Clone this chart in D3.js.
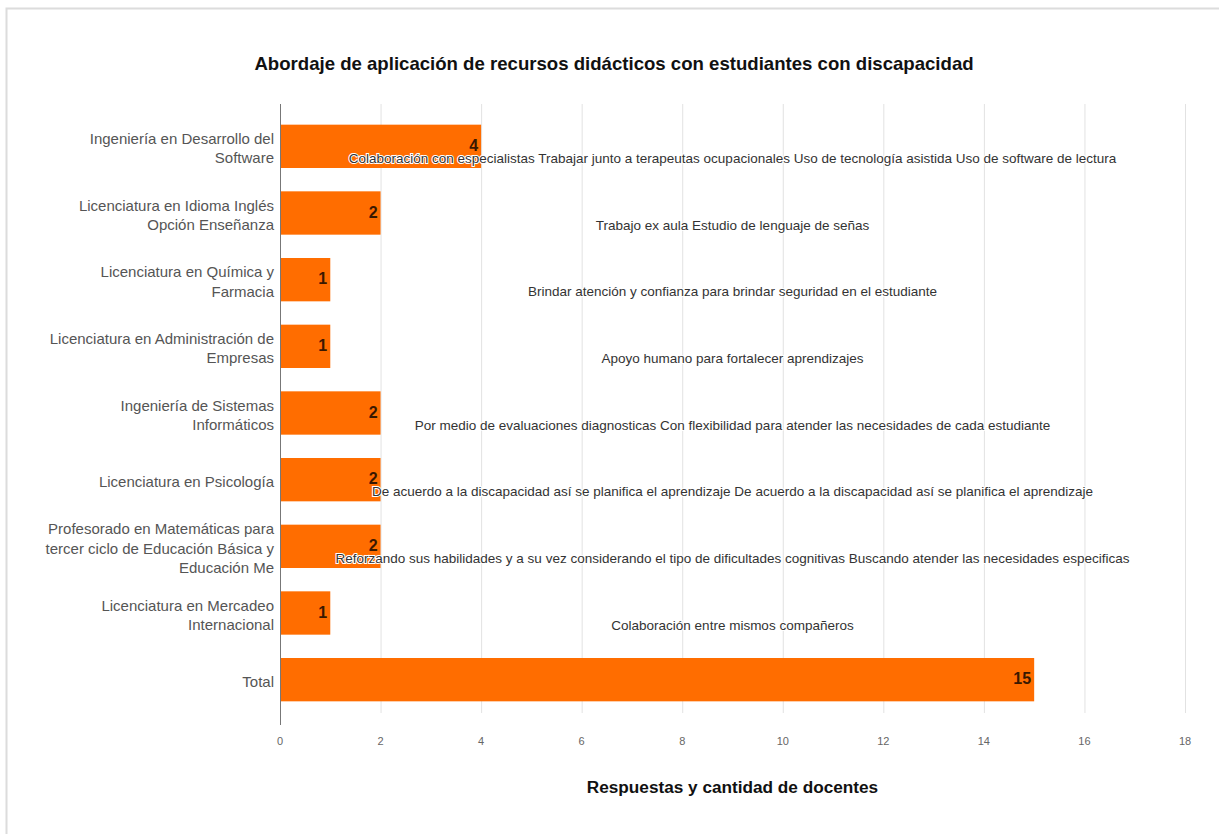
<!DOCTYPE html>
<html>
<head>
<meta charset="utf-8">
<script src="https://cdn.jsdelivr.net/npm/d3@7"></script>
<style>
  body { margin: 0; background: #fff; }
  svg { display: block; }
</style>
</head>
<body>
<div id="chart"></div>
<script>
// Datos del gráfico
const categorias = [
  ["Ingeniería en Desarrollo del", "Software"],
  ["Licenciatura en Idioma Inglés", "Opción Enseñanza"],
  ["Licenciatura en Química y", "Farmacia"],
  ["Licenciatura en Administración de", "Empresas"],
  ["Ingeniería de Sistemas", "Informáticos"],
  ["Licenciatura en Psicología"],
  ["Profesorado en Matemáticas para", "tercer ciclo de Educación Básica y", "Educación Me"],
  ["Licenciatura en Mercadeo", "Internacional"],
  ["Total"]
];
const valores = [4, 2, 1, 1, 2, 2, 2, 1, 15];
const respuestas = [
  "Colaboración con especialistas Trabajar junto a terapeutas ocupacionales Uso de tecnología asistida  Uso de software de lectura",
  "Trabajo ex aula   Estudio de lenguaje de señas",
  "Brindar atención y confianza para brindar seguridad en el estudiante",
  "Apoyo humano para fortalecer aprendizajes",
  "Por medio de evaluaciones diagnosticas Con flexibilidad para atender las necesidades de cada estudiante",
  "De acuerdo a la discapacidad así se planifica el aprendizaje De acuerdo a la discapacidad así se planifica el aprendizaje",
  "Reforzando sus habilidades y a su vez considerando el tipo de dificultades cognitivas Buscando atender las necesidades especificas",
  "Colaboración entre mismos compañeros",
  ""
];
const ticksX = [0, 2, 4, 6, 8, 10, 12, 14, 16, 18];

const width = 1219, height = 834;
const margenIzq = 280, margenDer = 1185, margenSup = 113, margenInf = 713;
const fuente = "'Liberation Sans', Arial, sans-serif";

const svg = d3.select("#chart").append("svg")
  .attr("width", width)
  .attr("height", height);

// marco
svg.append("path")
  .attr("d", "M6.5," + height + "V8.5H" + width)
  .attr("fill", "none")
  .attr("stroke", "#dcdcdc")
  .attr("stroke-width", 2);

const x = d3.scaleLinear().domain([0, 18]).range([margenIzq, margenDer]);
const y = d3.scaleBand().domain(d3.range(valores.length)).range([margenSup, margenInf]).paddingInner(0.35).paddingOuter(0.175);

// líneas de la cuadrícula
svg.append("g")
  .selectAll("line")
  .data(ticksX.slice(1))
  .enter()
  .append("line")
  .attr("x1", d => x(d) + 0.5)
  .attr("x2", d => x(d) + 0.5)
  .attr("y1", 104)
  .attr("y2", margenInf)
  .attr("stroke", "#e2e2e2");

// barras
svg.append("g")
  .selectAll("rect")
  .data(valores)
  .enter()
  .append("rect")
  .attr("x", x(0))
  .attr("y", (d, i) => y(i))
  .attr("width", d => x(d) - x(0))
  .attr("height", y.bandwidth())
  .attr("fill", "#ff6d00");

// eje vertical
svg.append("line")
  .attr("x1", margenIzq + 0.5).attr("x2", margenIzq + 0.5)
  .attr("y1", 104).attr("y2", 725)
  .attr("stroke", "#777");

// etiquetas de categorías
const etiquetas = svg.append("g")
  .selectAll("text")
  .data(categorias)
  .enter()
  .append("text")
  .attr("text-anchor", "end")
  .attr("font-family", fuente)
  .attr("font-size", 15)
  .attr("fill", "#555")
  .attr("transform", (d, i) => "translate(274," + (y(i) + y.bandwidth() / 2 + 2) + ")");

etiquetas.selectAll("tspan")
  .data(d => d.map((t, k) => ({ t: t, k: k, n: d.length })))
  .enter()
  .append("tspan")
  .attr("x", 0)
  .attr("y", d => (d.k - (d.n - 1) / 2) * 19.5)
  .attr("dy", "0.35em")
  .text(d => d.t);

// textos de respuestas
svg.append("g")
  .selectAll("text")
  .data(respuestas)
  .enter()
  .append("text")
  .attr("x", (margenIzq + margenDer) / 2)
  .attr("y", (d, i) => y(i) + y.bandwidth() / 2 + 12)
  .attr("dy", "0.35em")
  .attr("text-anchor", "middle")
  .attr("font-family", fuente)
  .attr("font-size", 13.5)
  .attr("fill", "#333")
  .attr("stroke", "#fff")
  .attr("stroke-width", 2)
  .attr("paint-order", "stroke")
  .text(d => d);

// valores
svg.append("g")
  .selectAll("text")
  .data(valores)
  .enter()
  .append("text")
  .attr("x", d => x(d) - 3)
  .attr("y", (d, i) => y(i) + y.bandwidth() / 2 - 1)
  .attr("dy", "0.35em")
  .attr("text-anchor", "end")
  .attr("font-family", fuente)
  .attr("font-size", 16)
  .attr("font-weight", "bold")
  .attr("fill", "#3a1800")
  .text(d => d);

// etiquetas del eje x
svg.append("g")
  .selectAll("text")
  .data(ticksX)
  .enter()
  .append("text")
  .attr("x", d => x(d))
  .attr("y", 741)
  .attr("dy", "0.35em")
  .attr("text-anchor", "middle")
  .attr("font-family", fuente)
  .attr("font-size", 11)
  .attr("fill", "#666")
  .text(d => d);

// títulos
svg.append("text")
  .attr("x", 614)
  .attr("y", 63)
  .attr("dy", "0.35em")
  .attr("text-anchor", "middle")
  .attr("font-family", fuente)
  .attr("font-size", 18.6)
  .attr("font-weight", "bold")
  .attr("fill", "#111")
  .text("Abordaje de aplicación de recursos didácticos con estudiantes con discapacidad");

svg.append("text")
  .attr("x", (margenIzq + margenDer) / 2)
  .attr("y", 787)
  .attr("dy", "0.35em")
  .attr("text-anchor", "middle")
  .attr("font-family", fuente)
  .attr("font-size", 17.2)
  .attr("font-weight", "bold")
  .attr("fill", "#111")
  .text("Respuestas y cantidad de docentes");
</script>
</body>
</html>
